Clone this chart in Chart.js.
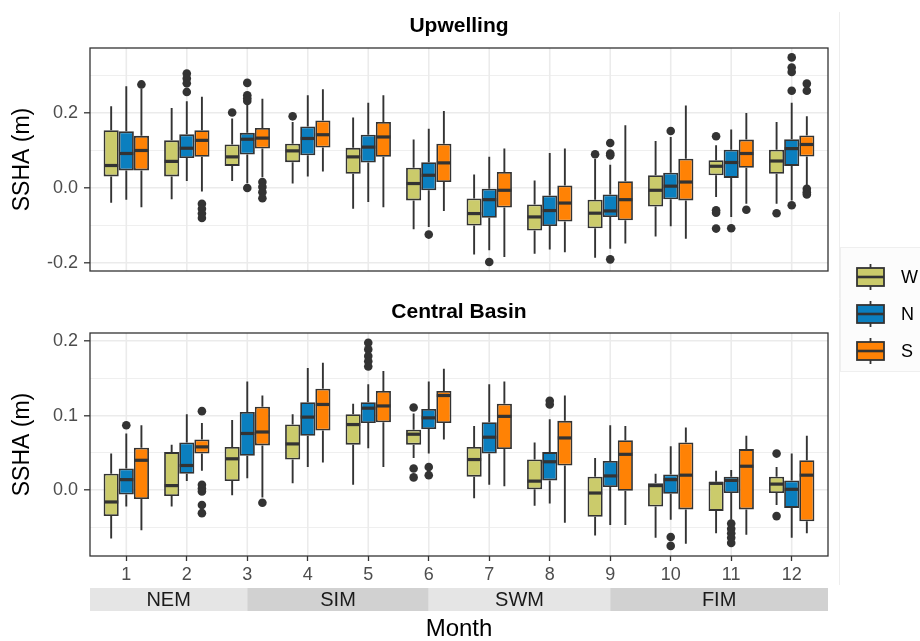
<!DOCTYPE html>
<html>
<head>
<meta charset="utf-8">
<script src="https://cdn.jsdelivr.net/npm/chart.js@4.4.1/dist/chart.umd.min.js"></script>
<style>
html,body{margin:0;padding:0;background:#ffffff;}
canvas{display:block;}
</style>
</head>
<body>
<canvas id="c" width="920" height="641"></canvas>
<script>
// ---------------- data ----------------
const months = [1, 2, 3, 4, 5, 6, 7, 8, 9, 10, 11, 12];
const groupNames = ['W', 'N', 'S'];
const panelTitles = ['Upwelling', 'Central Basin'];
const yTitle = 'SSHA (m)';
const xTitle = 'Month';
const seasonNames = ['NEM', 'SIM', 'SWM', 'FIM'];
const seasonBreaks = [3, 6, 9];

// tick values
const upMajor = [-0.2, 0.0, 0.2];
const upMinor = [-0.1, 0.1, 0.3];
const cbMajor = [0.0, 0.1, 0.2];
const cbMinor = [-0.05, 0.05, 0.15];

// box stats per month: [lower whisker, Q1, median, Q3, upper whisker]
const upW = [
  [-0.039, 0.031, 0.060, 0.154, 0.218],
  [-0.030, 0.031, 0.071, 0.127, 0.213],
  [ 0.019, 0.059, 0.083, 0.116, 0.185],
  [ 0.012, 0.069, 0.099, 0.118, 0.176],
  [-0.055, 0.038, 0.083, 0.107, 0.188],
  [-0.110,-0.033, 0.012, 0.054, 0.129],
  [-0.177,-0.100,-0.068,-0.028, 0.036],
  [-0.175,-0.113,-0.077,-0.044, 0.020],
  [-0.186,-0.107,-0.067,-0.031, 0.078],
  [-0.129,-0.049,-0.006, 0.034, 0.125],
  [-0.024, 0.034, 0.058, 0.074, 0.114],
  [-0.042, 0.038, 0.072, 0.102, 0.176]
];
const upN = [
  [-0.031, 0.047, 0.092, 0.151, 0.271],
  [ 0.019, 0.080, 0.106, 0.143, 0.231],
  [ 0.013, 0.089, 0.130, 0.147, 0.225],
  [ 0.031, 0.087, 0.132, 0.164, 0.247],
  [-0.037, 0.068, 0.109, 0.142, 0.227],
  [-0.104,-0.006, 0.034, 0.069, 0.158],
  [-0.166,-0.079,-0.031,-0.002, 0.083],
  [-0.164,-0.101,-0.060,-0.020, 0.093],
  [-0.162,-0.077,-0.061,-0.017, 0.062],
  [-0.102,-0.030, 0.005, 0.041, 0.136],
  [-0.077, 0.027, 0.068, 0.102, 0.156],
  [-0.033, 0.059, 0.105, 0.130, 0.227]
];
const upS = [
  [-0.051, 0.047, 0.100, 0.139, 0.265],
  [-0.009, 0.083, 0.127, 0.154, 0.243],
  [ 0.029, 0.105, 0.133, 0.160, 0.238],
  [ 0.044, 0.108, 0.142, 0.180, 0.263],
  [-0.051, 0.083, 0.136, 0.176, 0.247],
  [-0.061, 0.016, 0.067, 0.118, 0.205],
  [-0.184,-0.052,-0.006, 0.043, 0.105],
  [-0.171,-0.089,-0.040, 0.007, 0.105],
  [-0.148,-0.086,-0.031, 0.018, 0.167],
  [-0.135,-0.033, 0.016, 0.078, 0.220],
  [-0.042, 0.054, 0.092, 0.129, 0.200],
  [ 0.003, 0.084, 0.116, 0.140, 0.191]
];
const cbW = [
  [-0.065,-0.035,-0.016, 0.022, 0.049],
  [-0.022,-0.008, 0.006, 0.051, 0.061],
  [-0.007, 0.012, 0.042, 0.058, 0.094],
  [ 0.009, 0.041, 0.062, 0.088, 0.102],
  [ 0.007, 0.061, 0.088, 0.102, 0.116],
  [ 0.043, 0.061, 0.075, 0.081, 0.103],
  [-0.011, 0.018, 0.041, 0.058, 0.086],
  [-0.021, 0.001, 0.012, 0.041, 0.064],
  [-0.061,-0.036,-0.004, 0.018, 0.043],
  [-0.064,-0.022, 0.006, 0.009, 0.022],
  [-0.058,-0.028, 0.009, 0.011, 0.026],
  [-0.020,-0.004, 0.008, 0.018, 0.031]
];
const cbN = [
  [-0.022,-0.006, 0.014, 0.029, 0.076],
  [ 0.012, 0.022, 0.033, 0.064, 0.102],
  [ 0.016, 0.046, 0.076, 0.105, 0.146],
  [ 0.031, 0.073, 0.098, 0.118, 0.164],
  [ 0.056, 0.090, 0.110, 0.118, 0.142],
  [ 0.049, 0.082, 0.097, 0.109, 0.146],
  [ 0.007, 0.049, 0.071, 0.091, 0.142],
  [-0.018, 0.013, 0.038, 0.051, 0.095],
  [-0.047, 0.004, 0.019, 0.039, 0.087],
  [-0.040,-0.005, 0.014, 0.021, 0.059],
  [-0.040,-0.004, 0.013, 0.018, 0.027],
  [-0.064,-0.024, 0.001, 0.013, 0.049]
];
const cbS = [
  [-0.054,-0.012, 0.040, 0.057, 0.087],
  [ 0.026, 0.049, 0.058, 0.068, 0.090],
  [-0.010, 0.060, 0.078, 0.112, 0.127],
  [ 0.037, 0.080, 0.115, 0.136, 0.171],
  [ 0.031, 0.091, 0.113, 0.133, 0.160],
  [ 0.068, 0.090, 0.127, 0.133, 0.163],
  [ 0.005, 0.055, 0.099, 0.116, 0.146],
  [-0.044, 0.033, 0.070, 0.093, 0.127],
  [-0.047,-0.001, 0.048, 0.067, 0.086],
  [-0.072,-0.026, 0.020, 0.064, 0.084],
  [-0.060,-0.026, 0.032, 0.055, 0.073],
  [-0.058,-0.042, 0.020, 0.040, 0.073]
];

// outliers: [month, value]
const upW_out = [[3,0.201],[4,0.191],[9,0.090],[11,0.138],[11,-0.059],[11,-0.066],[11,-0.108],[12,-0.067]];
const upN_out = [[2,0.305],[2,0.292],[2,0.279],[2,0.256],[3,0.280],[3,0.247],[3,0.239],[3,0.232],[3,0.000],
                 [6,-0.124],[7,-0.197],[9,0.120],[9,0.092],[9,0.087],[9,-0.190],[10,0.152],[11,-0.107],
                 [12,0.348],[12,0.321],[12,0.309],[12,0.259],[12,-0.046]];
const upS_out = [[1,0.276],[2,-0.042],[2,-0.055],[2,-0.068],[2,-0.080],[3,0.016],[3,0.003],[3,-0.011],[3,-0.027],
                 [11,-0.058],[12,0.278],[12,0.259],[12,-0.002],[12,-0.011],[12,-0.017]];
const cbW_out = [[6,0.111],[6,0.029],[6,0.017],[12,0.049],[12,-0.035]];
const cbN_out = [[1,0.087],[5,0.198],[5,0.189],[5,0.180],[5,0.173],[5,0.166],[6,0.031],[6,0.020],[8,0.120],[8,0.115],
                 [10,-0.063],[10,-0.075],[11,-0.045],[11,-0.052],[11,-0.058],[11,-0.064],[11,-0.071]];
const cbS_out = [[2,0.106],[2,0.007],[2,0.002],[2,-0.002],[2,-0.020],[2,-0.031],[3,-0.017]];

// ---------------- styles ----------------
const FONT = '"Liberation Sans", Arial, Helvetica, sans-serif';
const groupColors = ['#CBCB6B', '#0B7FBF', '#FF8205'];
const LINE = '#333333';
const GRID = '#ebebeb';
const dodge = 0.25;

Chart.defaults.font.family = FONT;

const panels = [
  {axis: 'yTop', stats: [upW, upN, upS], outs: [upW_out, upN_out, upS_out]},
  {axis: 'yBot', stats: [cbW, cbN, cbS], outs: [cbW_out, cbN_out, cbS_out]}
];

const barSets = [];
const pointSets = [];
panels.forEach(p => {
  groupNames.forEach((g, gi) => {
    barSets.push({
      type: 'bar',
      label: g,
      yAxisID: p.axis,
      xAxisID: 'x',
      stack: g,
      stats: p.stats[gi],
      data: p.stats[gi].map((r, i) => ({x: months[i], y: [r[1], r[3]]})),
      backgroundColor: groupColors[gi],
      borderColor: LINE,
      borderWidth: 1.8,
      borderSkipped: false,
      categoryPercentage: 0.75,
      barPercentage: 1.0
    });
    pointSets.push({
      type: 'scatter',
      label: g + ' outliers',
      yAxisID: p.axis,
      xAxisID: 'x',
      data: p.outs[gi].map(o => ({x: o[0] + (gi - 1) * dodge, y: o[1]})),
      backgroundColor: LINE,
      borderColor: LINE,
      pointRadius: 4.3,
      pointBorderWidth: 0,
      showLine: false
    });
  });
});

const near = (a, b) => Math.abs(a - b) < 1e-9;
function yAxis(major, minor, mn, mx, weight, sw) {
  return {
    type: 'linear', position: 'left', stack: 'panels', stackWeight: sw, weight: weight,
    min: mn, max: mx, stacked: false,
    afterBuildTicks: s => { s.ticks = major.concat(minor).sort((a, b) => a - b).map(v => ({value: v})); },
    afterFit: s => { s.width = 90; },
    ticks: {
      autoSkip: false, padding: 6, color: '#4d4d4d', font: {size: 18},
      callback: v => major.some(m => near(m, v)) ? v.toFixed(1) : ''
    },
    grid: {
      color: GRID,
      lineWidth: c => (c.tick && major.some(m => near(m, c.tick.value))) ? 1.6 : 0.8,
      tickLength: 6,
      tickWidth: 1.3,
      tickColor: c => (c.tick && major.some(m => near(m, c.tick.value))) ? LINE : 'rgba(0,0,0,0)'
    },
    border: {display: false},
    title: {display: true, text: yTitle, color: '#000', font: {size: 23}, padding: {top: 9, bottom: 0}}
  };
}

const boxPlugin = {
  id: 'boxplot',
  beforeDatasetsDraw(chart) {
    const ctx = chart.ctx, xs = chart.scales.x;
    // vertical grid lines inside each panel
    ['yTop', 'yBot'].forEach(id => {
      const s = chart.scales[id];
      ctx.save();
      ctx.strokeStyle = GRID; ctx.lineWidth = 1.6;
      months.forEach(m => {
        const px = xs.getPixelForValue(m);
        ctx.beginPath(); ctx.moveTo(px, s.top); ctx.lineTo(px, s.bottom); ctx.stroke();
      });
      ctx.restore();
    });
    // whiskers
    chart.data.datasets.forEach((ds, di) => {
      if (ds.type !== 'bar') return;
      const meta = chart.getDatasetMeta(di), ys = chart.scales[ds.yAxisID];
      ctx.save();
      ctx.strokeStyle = LINE; ctx.lineWidth = 1.9;
      meta.data.forEach((el, i) => {
        const r = ds.stats[i];
        ctx.beginPath();
        ctx.moveTo(el.x, ys.getPixelForValue(r[3])); ctx.lineTo(el.x, ys.getPixelForValue(r[4]));
        ctx.moveTo(el.x, ys.getPixelForValue(r[1])); ctx.lineTo(el.x, ys.getPixelForValue(r[0]));
        ctx.stroke();
      });
      ctx.restore();
    });
  },
  afterDatasetsDraw(chart) {
    const ctx = chart.ctx, area = chart.chartArea;
    // medians
    chart.data.datasets.forEach((ds, di) => {
      if (ds.type !== 'bar') return;
      const meta = chart.getDatasetMeta(di), ys = chart.scales[ds.yAxisID];
      ctx.save();
      ctx.strokeStyle = LINE; ctx.lineWidth = 3.2;
      meta.data.forEach((el, i) => {
        const py = ys.getPixelForValue(ds.stats[i][2]);
        ctx.beginPath(); ctx.moveTo(el.x - el.width / 2 + 0.5, py); ctx.lineTo(el.x + el.width / 2 - 0.5, py); ctx.stroke();
      });
      ctx.restore();
    });
    // panel borders
    ['yTop', 'yBot'].forEach(id => {
      const s = chart.scales[id];
      ctx.save();
      ctx.strokeStyle = LINE; ctx.lineWidth = 1.3;
      ctx.strokeRect(area.left, s.top, area.right - area.left, s.bottom - s.top);
      ctx.restore();
    });
  },
  afterDraw(chart) {
    const ctx = chart.ctx, xs = chart.scales.x, area = chart.chartArea;
    const cx = (area.left + area.right) / 2;
    // panel titles
    ctx.save();
    ctx.fillStyle = '#000'; ctx.textAlign = 'center'; ctx.textBaseline = 'alphabetic';
    ctx.font = 'bold 21px ' + FONT;
    ctx.fillText(panelTitles[0], cx, chart.scales.yTop.top - 16.5);
    ctx.fillText(panelTitles[1], cx, chart.scales.yBot.top - 15.5);
    ctx.restore();
    // season strip
    const edges = [xs.min].concat(seasonBreaks, [xs.max]);
    const top = area.bottom + 32, h = 23;
    ctx.save();
    seasonNames.forEach((name, i) => {
      const x0 = xs.getPixelForValue(edges[i]), x1 = xs.getPixelForValue(edges[i + 1]);
      ctx.fillStyle = (i % 2 === 0) ? '#e5e5e5' : '#d1d1d1';
      ctx.fillRect(x0, top, x1 - x0, h);
      ctx.fillStyle = '#1a1a1a'; ctx.font = '20px ' + FONT;
      ctx.textAlign = 'center'; ctx.textBaseline = 'middle';
      ctx.fillText(name, (x0 + x1) / 2, top + h / 2 + 1);
    });
    ctx.restore();
    // faint separator & legend
    ctx.save();
    ctx.strokeStyle = '#ededed'; ctx.lineWidth = 1;
    ctx.beginPath(); ctx.moveTo(839.5, 12); ctx.lineTo(839.5, 585); ctx.stroke();
    ctx.fillStyle = '#fcfcfc'; ctx.fillRect(840, 247, 80, 124);
    ctx.strokeStyle = '#efefef'; ctx.strokeRect(840.5, 247.5, 80, 124);
    groupNames.forEach((g, gi) => {
      const cy = 277 + gi * 37, kx = 857, kw = 27, kh = 18;
      ctx.strokeStyle = LINE; ctx.lineWidth = 1.8;
      ctx.beginPath(); ctx.moveTo(kx + kw / 2, cy - 13); ctx.lineTo(kx + kw / 2, cy + 13); ctx.stroke();
      ctx.fillStyle = groupColors[gi];
      ctx.fillRect(kx, cy - kh / 2, kw, kh);
      ctx.strokeRect(kx, cy - kh / 2, kw, kh);
      ctx.lineWidth = 2.6;
      ctx.beginPath(); ctx.moveTo(kx, cy); ctx.lineTo(kx + kw, cy); ctx.stroke();
      ctx.fillStyle = '#000'; ctx.font = '18px ' + FONT;
      ctx.textAlign = 'left'; ctx.textBaseline = 'middle';
      ctx.fillText(g, 901, cy + 1);
    });
    ctx.restore();
  }
};

new Chart(document.getElementById('c'), {
  data: {datasets: barSets.concat(pointSets)},
  options: {
    responsive: false,
    animation: false,
    devicePixelRatio: 1,
    layout: {padding: {left: 0, right: 92, top: 48, bottom: 0}},
    plugins: {legend: {display: false}, tooltip: {enabled: false}, title: {display: false}},
    scales: {
      x: {
        type: 'linear', position: 'bottom', min: 0.4, max: 12.6, offset: false,
        afterBuildTicks: s => { s.ticks = months.map(v => ({value: v})); },
        afterFit: s => { s.height = 85; },
        ticks: {autoSkip: false, maxRotation: 0, padding: 3, color: '#4d4d4d', font: {size: 18}, callback: v => String(v)},
        grid: {offset: false, drawOnChartArea: false, drawTicks: true, tickLength: 5, tickColor: LINE, tickWidth: 1.3},
        border: {display: false},
        title: {display: true, text: xTitle, color: '#000', font: {size: 24, lineHeight: 1}, padding: {top: 0, bottom: 0}}
      },
      yTop: yAxis(upMajor, upMinor, -0.221, 0.373, 3, 223),
      yGap: {
        type: 'linear', position: 'left', stack: 'panels', stackWeight: 62, weight: 2, min: 0, max: 1,
        afterFit: s => { s.width = 90; },
        ticks: {display: false}, grid: {display: false}, border: {display: false}
      },
      yBot: yAxis(cbMajor, cbMinor, -0.0886, 0.211, 1, 223)
    }
  },
  plugins: [boxPlugin]
});
</script>
</body>
</html>
